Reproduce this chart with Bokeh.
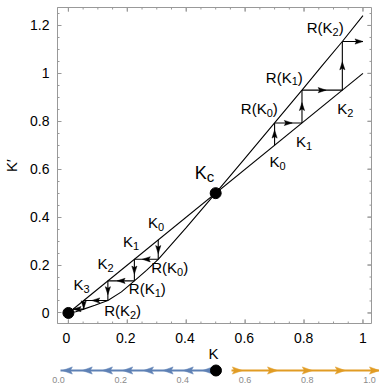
import numpy as np
from bokeh.plotting import figure
from bokeh.models import Range1d, FixedTicker
from bokeh.layouts import column
from bokeh.core.properties import value
from bokeh.embed import file_html
from bokeh.resources import INLINE

# ---------------- data ----------------
# renormalisation map R(K)
curve_K = [0, 0.025, 0.052, 0.09, 0.134, 0.18, 0.224, 0.265, 0.305, 0.4, 0.5,
           0.6, 0.70, 0.793, 0.86, 0.93, 1.0]
curve_R = [0, 0.005, 0.016, 0.032, 0.052, 0.088, 0.134, 0.178, 0.224, 0.356, 0.5,
           0.646, 0.793, 0.93, 1.03, 1.133, 1.241]
diag_K = [0, 1]                      # K' = K
fixed_K = [0, 0.5]                   # fixed points (0 and K_c)
flow_low = [0.305, 0.224, 0.134, 0.052, 0.016]   # K0, K1, K2, K3, K4 (flow to 0)
flow_up = [0.70, 0.793, 0.93, 1.133]             # K0, K1, K2, R(K2) (flow to infinity)
K_max = 1.0
x_ticks = [0, 0.2, 0.4, 0.6, 0.8, 1]
x_tick_labels = ["0", "0.2", "0.4", "0.6", "0.8", "1"]
y_ticks = [0, 0.2, 0.4, 0.6, 0.8, 1, 1.2]
y_tick_labels = ["0", "0.2", "0.4", "0.6", "0.8", "1", "1.2"]
minor_ticks = [round(0.05 * i, 2) for i in range(-1, 27)]

# number line below
nl_ticks = [0.0, 0.2, 0.4, 0.6, 0.8, 1.0]
nl_tick_labels = ["0.0", "0.2", "0.4", "0.6", "0.8", "1.0"]
nl_blue = [0.0, 0.5]
nl_orange = [0.55, 1.03]
nl_blue_heads = [0.006, 0.07, 0.135, 0.2, 0.267, 0.33, 0.395, 0.457]
nl_orange_heads = [0.585, 0.698, 0.81, 0.916, 1.026]
nl_dot = [0.5]

FONT = "Liberation Sans"
GRAY = "#999999"
BLUE = "#5E81B5"
ORANGE = "#E19C24"

# ---------------- main plot ----------------
P_W = 379
BL, BR, BT = 55, 8, 7
FW, FH = P_W - BL - BR, 316
P_H = BT + FH + 1
xr = Range1d(-0.037, 1.029)
yr = Range1d(-0.044, 1.275)
sx = FW / (xr.end - xr.start)
sy = FH / (yr.end - yr.start)

p = figure(width=P_W, height=P_H, x_range=xr, y_range=yr, x_axis_location=None,
           output_backend="svg", toolbar_location=None,
           min_border_left=BL, min_border_right=BR, min_border_top=BT, min_border_bottom=1)
p.frame_align = False
p.grid.visible = False
p.outline_line_color = GRAY
p.background_fill_color = "white"
p.border_fill_color = "white"

ya = p.yaxis[0]
ya.ticker = FixedTicker(ticks=y_ticks, minor_ticks=minor_ticks)
ya.axis_line_color = GRAY
ya.major_tick_line_color = GRAY
ya.minor_tick_line_color = GRAY
ya.major_tick_in = 4
ya.major_tick_out = 0
ya.minor_tick_in = 2
ya.minor_tick_out = 0
ya.major_label_text_font = FONT
ya.major_label_text_font_size = "14px"
ya.major_label_text_color = "black"
ya.major_label_overrides = {t: l for t, l in zip(y_ticks, y_tick_labels)}
ya.major_label_standoff = 8
ya.axis_label = "K\u2032"
ya.axis_label_text_font = FONT
ya.axis_label_text_font_size = "15px"
ya.axis_label_text_font_style = "normal"
ya.axis_label_text_color = "black"
ya.axis_label_standoff = 7

# ticks on the bottom, top and right frame edges
tx0, tx1, ty0, ty1 = [], [], [], []
for t in x_ticks + minor_ticks:
    if xr.start < t < xr.end:
        ln = (4 if t in x_ticks else 2) / sy
        tx0 += [t, t]; tx1 += [t, t]
        ty0 += [yr.end, yr.start]; ty1 += [yr.end - ln, yr.start + ln]
for t in y_ticks + minor_ticks:
    if yr.start < t < yr.end:
        ln = (4 if t in y_ticks else 2) / sx
        tx0.append(xr.end); tx1.append(xr.end - ln); ty0.append(t); ty1.append(t)
p.segment(tx0, ty0, tx1, ty1, line_color=GRAY, line_width=1)

# curves
p.line(diag_K, diag_K, line_color="black", line_width=1.1)
p.line(curve_K, curve_R, line_color="black", line_width=1.1)
p.scatter(fixed_K, fixed_K, size=11, color="black")

def head_poly(tx, ty, dx, dy, L, w, notch, ax_sx, ax_sy):
    # dx, dy: unit direction in screen pixels (y up)
    px, py = -dy, dx
    pts = [(0, 0),
           (-dx * L + px * w, -dy * L + py * w),
           (-dx * (L - notch), -dy * (L - notch)),
           (-dx * L - px * w, -dy * L - py * w)]
    return ([tx + ox / ax_sx for ox, oy in pts], [ty + oy / ax_sy for ox, oy in pts])

def staircase(ks, end_x=None):
    pts = [(ks[0], ks[0])]
    for i in range(1, len(ks)):
        pts.append((ks[i - 1], ks[i]))
        if i < len(ks) - 1 or end_x is None:
            pts.append((ks[i], ks[i]))
        else:
            pts.append((end_x, ks[i]))
    return pts

seg_x0, seg_y0, seg_x1, seg_y1 = [], [], [], []
hx, hy = [], []
for pts in (staircase(flow_low), staircase(flow_up, K_max)):
    n = len(pts) - 1
    for j in range(n):
        (x0, y0), (x1, y1) = pts[j], pts[j + 1]
        seg_x0.append(x0); seg_y0.append(y0); seg_x1.append(x1); seg_y1.append(y1)
        ddx, ddy = (x1 - x0) * sx, (y1 - y0) * sy
        ln = (ddx ** 2 + ddy ** 2) ** 0.5
        ux, uy = ddx / ln, ddy / ln
        if j == n - 1:
            hxx, hyy = x1, y1
        else:
            hxx = (x0 + x1) / 2 + ux * 4 / sx
            hyy = (y0 + y1) / 2 + uy * 4 / sy
        xs, ys = head_poly(hxx, hyy, ux, uy, 8, 2.6, 1.5, sx, sy)
        hx.append(xs); hy.append(ys)

p.segment(seg_x0, seg_y0, seg_x1, seg_y1, line_color="black", line_width=1.1)
p.patches(hx, hy, fill_color="black", line_color="black", line_width=0.5)

# labels with subscripts (Arial/Liberation metrics)
W = {'R': 722, '(': 333, ')': 333, 'K': 667, 'c': 500}
for d in "0123456789":
    W[d] = 556

def text_w(s, size):
    return sum(W[ch] for ch in s) / 1000 * size

def sub_label(fig, x, y, parts, base=15, sub=11, shift=4):
    total = sum(text_w(s, sub if is_sub else base) for s, is_sub in parts)
    off = -total / 2
    base_y = 0.358 * base - 7
    for s, is_sub in parts:
        size = sub if is_sub else base
        fig.text([x], [y], text=[s], x_offset=off, y_offset=base_y + (shift if is_sub else 0),
                 text_font=value(FONT), text_font_size=f"{size}px", text_color="black",
                 text_align="left", text_baseline="alphabetic")
        off += text_w(s, size)

def K_(n):
    return [("K", False), (n, True)]

def RK_(n):
    return [("R(K", False), (n, True), (")", False)]

labels = [
    (0.298, 0.369, K_("0")), (0.213, 0.290, K_("1")), (0.126, 0.198, K_("2")), (0.045, 0.111, K_("3")),
    (0.344, 0.181, RK_("0")), (0.268, 0.094, RK_("1")), (0.184, 0.002, RK_("2")),
    (0.710, 0.625, K_("0")), (0.800, 0.708, K_("1")), (0.940, 0.845, K_("2")),
    (0.648, 0.845, RK_("0")), (0.733, 0.978, RK_("1")), (0.872, 1.183, RK_("2")),
]
for x, y, parts in labels:
    sub_label(p, x, y, parts)
sub_label(p, 0.462, 0.582, [("K", False), ("c", True)], base=18, sub=15, shift=4)

# ---------------- strip below: K tick labels, axis title, number line ----------------
NW, NH = 379, 383 - P_H
nxr = Range1d(-0.193, 1.026)
nyr = Range1d(NH, 0)          # pixels from the top of this strip
nsx = NW / (nxr.end - nxr.start)
q = figure(width=NW, height=NH, x_range=nxr, y_range=nyr, output_backend="svg",
           toolbar_location=None, x_axis_type=None, y_axis_type=None,
           min_border=0, min_border_left=0, min_border_right=0, min_border_top=0, min_border_bottom=0)
q.frame_align = False
q.grid.visible = False
q.outline_line_color = None

def main_x_to_strip(t):
    # same screen column as data value t on the main plot's K axis
    return nxr.start + (BL + (t - xr.start) * sx) / nsx

TICK_Y = 337 - P_H
TITLE_Y = 353 - P_H
q.text([main_x_to_strip(t) for t in x_ticks], [TICK_Y] * len(x_ticks), text=x_tick_labels,
       text_font=value(FONT), text_font_size="14px", text_color="black",
       text_align="center", text_baseline="middle")
q.text([main_x_to_strip((xr.start + xr.end) / 2)], [TITLE_Y], text=["K"],
       text_font=value(FONT), text_font_size="15px", text_color="black",
       text_align="center", text_baseline="middle")

LINE_Y = 370 - P_H
q.line(nl_blue, [LINE_Y] * len(nl_blue), line_color=BLUE, line_width=2)
q.line(nl_orange, [LINE_Y] * len(nl_orange), line_color=ORANGE, line_width=2)
bx, by, ox_, oy_ = [], [], [], []
for h in nl_blue_heads:
    xs, ys = head_poly(h, LINE_Y, -1, 0, 10, 3.6, 2, nsx, -1)
    bx.append(xs); by.append(ys)
for h in nl_orange_heads:
    xs, ys = head_poly(h, LINE_Y, 1, 0, 10, 3.6, 2, nsx, -1)
    ox_.append(xs); oy_.append(ys)
q.patches(bx, by, fill_color=BLUE, line_color=BLUE, line_width=0.5)
q.patches(ox_, oy_, fill_color=ORANGE, line_color=ORANGE, line_width=0.5)
q.scatter(nl_dot, [LINE_Y], size=11, color="black")
q.text(nl_ticks, [LINE_Y] * len(nl_ticks), text=nl_tick_labels, x_offset=-2, y_offset=9,
       text_font=value(FONT), text_font_size="9px", text_color="#8a8a8a",
       text_align="center", text_baseline="middle")

layout = column(p, q, spacing=0)
open("out.html", "w").write(file_html(layout, INLINE))
